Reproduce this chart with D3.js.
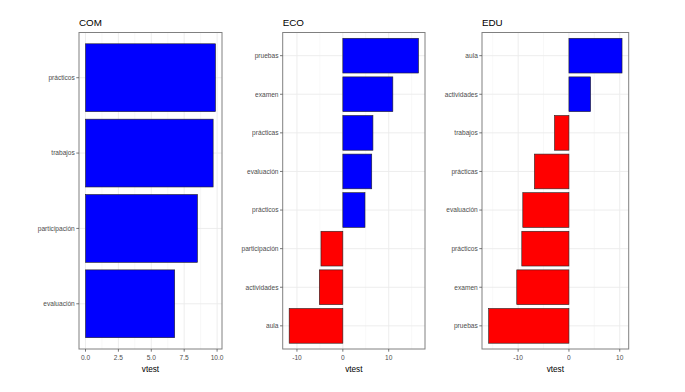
<!DOCTYPE html>
<html><head><meta charset="utf-8">
<script src="https://cdn.jsdelivr.net/npm/d3@7"></script>
<style>body{margin:0;background:#fff}svg{display:block}text{opacity:0.999}</style>
</head><body>
<script>
const comCategories = ["prácticos","trabajos","participación","evaluación"];
const comValues = [9.88, 9.70, 8.51, 6.78];
const ecoCategories = ["pruebas","examen","prácticas","evaluación","prácticos","participación","actividades","aula"];
const ecoValues = [16.5, 10.9, 6.56, 6.3, 4.83, -4.77, -5.13, -11.7];
const eduCategories = ["aula","actividades","trabajos","prácticas","evaluación","prácticos","examen","pruebas"];
const eduValues = [10.45, 4.27, -2.84, -6.79, -9.08, -9.28, -10.27, -15.8];
const comTicks = [0, 2.5, 5, 7.5, 10];
const comTickLabels = ["0.0","2.5","5.0","7.5","10.0"];
const ecoTicks = [-10, 0, 10];
const eduTicks = [-10, 0, 10];
const titles = ["COM","ECO","EDU"];
const xTitle = "vtest";

const W = 685, H = 392;
const svg = d3.select("body").append("svg").attr("width", W).attr("height", H);
svg.append("rect").attr("width", W).attr("height", H).attr("fill", "#fff");

const panels = [
  {title: titles[0], cats: comCategories, vals: comValues, ticks: comTicks, labels: comTickLabels, x0: 79, x1: 222},
  {title: titles[1], cats: ecoCategories, vals: ecoValues, ticks: ecoTicks, labels: ecoTicks.map(String), x0: 282.7, x1: 425},
  {title: titles[2], cats: eduCategories, vals: eduValues, ticks: eduTicks, labels: eduTicks.map(String), x0: 482, x1: 628.7}
];
const pTop = 32.5, pBottom = 349;
const font = "Liberation Sans, Arial, sans-serif";

panels.forEach(p => {
  const lo = Math.min(0, d3.min(p.vals)), hi = Math.max(0, d3.max(p.vals));
  const ex = (hi - lo) * 0.05;
  const x = d3.scaleLinear().domain([lo - ex, hi + ex]).range([p.x0, p.x1]);
  const y = d3.scalePoint().domain(p.cats).range([pTop, pBottom]).padding(0.6);
  const bh = y.step() * 0.9;
  const g = svg.append("g");
  const stepT = p.ticks[1] - p.ticks[0];
  const minor = [];
  for (let i = -1; i < p.ticks.length; i++) {
    const v = p.ticks[0] + stepT * (i + 0.5);
    if (v > x.domain()[0] && v < x.domain()[1]) minor.push(v);
  }
  g.selectAll(".mn").data(minor).join("line")
    .attr("x1", d => x(d)).attr("x2", d => x(d)).attr("y1", pTop).attr("y2", pBottom)
    .attr("stroke", "#f3f3f3").attr("stroke-width", 0.6);
  g.selectAll(".mj").data(p.ticks).join("line")
    .attr("x1", d => x(d)).attr("x2", d => x(d)).attr("y1", pTop).attr("y2", pBottom)
    .attr("stroke", "#ebebeb").attr("stroke-width", 0.9);
  g.selectAll(".my").data(p.cats).join("line")
    .attr("x1", p.x0).attr("x2", p.x1).attr("y1", d => y(d)).attr("y2", d => y(d))
    .attr("stroke", "#ebebeb").attr("stroke-width", 0.9);
  g.selectAll(".bar").data(p.cats).join("rect")
    .attr("x", (d, i) => x(Math.min(0, p.vals[i])))
    .attr("width", (d, i) => Math.abs(x(p.vals[i]) - x(0)))
    .attr("y", d => y(d) - bh / 2).attr("height", bh)
    .attr("fill", (d, i) => p.vals[i] >= 0 ? "#0000ff" : "#ff0000")
    .attr("stroke", "#222").attr("stroke-width", 0.6);
  g.append("rect").attr("x", p.x0).attr("y", pTop).attr("width", p.x1 - p.x0).attr("height", pBottom - pTop)
    .attr("fill", "none").attr("stroke", "#808080").attr("stroke-width", 1);
  g.selectAll(".yt").data(p.cats).join("line")
    .attr("x1", p.x0 - 2.7).attr("x2", p.x0).attr("y1", d => y(d)).attr("y2", d => y(d))
    .attr("stroke", "#555").attr("stroke-width", 0.8);
  g.selectAll(".yl").data(p.cats).join("text")
    .attr("x", p.x0 - 4.2).attr("y", d => y(d)).attr("dy", "0.35em")
    .attr("text-anchor", "end").attr("font-family", font).attr("font-size", 6.6)
    .attr("fill", "#4d4d4d").text(d => d);
  g.selectAll(".xt").data(p.ticks).join("line")
    .attr("x1", d => x(d)).attr("x2", d => x(d)).attr("y1", pBottom).attr("y2", pBottom + 2.7)
    .attr("stroke", "#555").attr("stroke-width", 0.8);
  g.selectAll(".xl").data(p.ticks).join("text")
    .attr("x", d => x(d)).attr("y", 360)
    .attr("text-anchor", "middle").attr("font-family", font).attr("font-size", 6.6)
    .attr("fill", "#4d4d4d").text((d, i) => p.labels[i]);
  g.append("text").attr("x", (p.x0 + p.x1) / 2).attr("y", 371.5)
    .attr("text-anchor", "middle").attr("font-family", font).attr("font-size", 8.2)
    .attr("fill", "#000").text(xTitle);
  g.append("text").attr("x", p.x0).attr("y", 26.3)
    .attr("font-family", font).attr("font-size", 9.8).attr("fill", "#000").text(p.title);
});
</script>
</body></html>
